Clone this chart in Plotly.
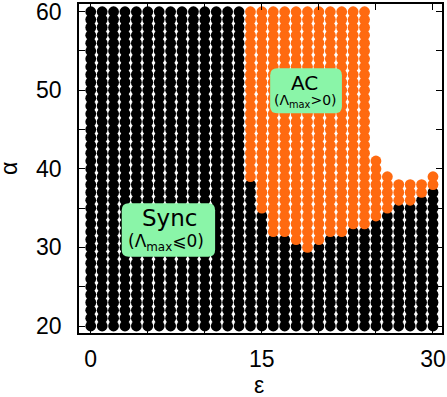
import plotly.graph_objects as go

# ---- data ----
epsilon_cols = list(range(0, 31))                       # column positions (ε)
alpha_min = 20                                          # lowest α row
top_alpha = [60]*25 + [41, 39, 38, 38, 38, 39]          # highest computed α per column
orange_start = [None]*14 + [39, 35, 32, 32, 31, 30, 31, 32, 32, 33, 33,
                            34, 35, 36, 36, 37, 38]     # first AC (orange) α per column
x_tickvals = [0, 5, 10, 15, 20, 25, 30]
x_ticktext = ["0", "", "", "15", "", "", "30"]
y_tickvals = [20, 25, 30, 35, 40, 45, 50, 55, 60]
y_ticktext = ["20", "", "30", "", "40", "", "50", "", "60"]

# build point lists
bx, by, ox, oy = [], [], [], []
for e, top, os_ in zip(epsilon_cols, top_alpha, orange_start):
    for a in range(alpha_min, top + 1):
        if os_ is not None and a >= os_:
            ox.append(e); oy.append(a)
        else:
            bx.append(e); by.append(a)

# ---- layout geometry ----
W, H = 447, 397
L, R, T, B = 79, 441.7, 4, 333
XR = [-1.03, 30.79]
YR = [19.11, 60.98]

def px2x(px):
    return XR[0] + (px - L) / (R - L) * (XR[1] - XR[0])

def px2y(py):
    return YR[1] - (py - T) / (B - T) * (YR[1] - YR[0])

def rounded_box(x0p, x1p, y0p, y1p, r):
    def P(px, py):
        return f"{px2x(px):.4f},{px2y(py):.4f}"
    return (f"M {P(x0p + r, y0p)} L {P(x1p - r, y0p)} "
            f"Q {P(x1p, y0p)} {P(x1p, y0p + r)} L {P(x1p, y1p - r)} "
            f"Q {P(x1p, y1p)} {P(x1p - r, y1p)} L {P(x0p + r, y1p)} "
            f"Q {P(x0p, y1p)} {P(x0p, y1p - r)} L {P(x0p, y0p + r)} "
            f"Q {P(x0p, y0p)} {P(x0p + r, y0p)} Z")

BOX_GREEN = "#8AF5A8"
ORANGE = "#FF6A10"

fig = go.Figure()
fig.add_trace(go.Scatter(x=bx, y=by, mode="markers",
                         marker=dict(size=10.8, color="black", line=dict(width=0)),
                         hoverinfo="skip", showlegend=False))
fig.add_trace(go.Scatter(x=ox, y=oy, mode="markers",
                         marker=dict(size=10.8, color=ORANGE, line=dict(width=0)),
                         hoverinfo="skip", showlegend=False))

shapes = [
    dict(type="path", path=rounded_box(121.7, 215, 203.3, 256.7, 7), xref="x", yref="y",
         fillcolor=BOX_GREEN, line=dict(width=0), layer="above"),
    dict(type="path", path=rounded_box(270, 341.7, 68.3, 113.3, 7), xref="x", yref="y",
         fillcolor=BOX_GREEN, line=dict(width=0), layer="above"),
]

box_font = "DejaVu Sans"
annotations = [
    dict(x=px2x(169), y=px2y(218), text="Sync", showarrow=False,
         font=dict(family=box_font, size=23, color="black"), xref="x", yref="y"),
    dict(x=px2x(166), y=px2y(242), text="(Λ<sub>max</sub>⩽0)", showarrow=False,
         font=dict(family=box_font, size=17, color="black"), xref="x", yref="y"),
    dict(x=px2x(304.5), y=px2y(83), text="AC", showarrow=False,
         font=dict(family=box_font, size=20, color="black"), xref="x", yref="y"),
    dict(x=px2x(305), y=px2y(101), text="(Λ<sub>max</sub>>0)", showarrow=False,
         font=dict(family=box_font, size=14, color="black"), xref="x", yref="y"),
    # axis titles
    dict(x=px2x(259), y=0, yref="paper", xref="x", yshift=-52, text="ε", showarrow=False,
         borderpad=0, font=dict(family="Liberation Sans", size=23, color="black"),
         yanchor="middle"),
    dict(x=0, xref="paper", y=px2y(169), yref="y", xshift=-70, text="α", showarrow=False,
         borderpad=0, textangle=-90, font=dict(family="Liberation Sans", size=23, color="black"),
         xanchor="center"),
]

axis_common = dict(showline=True, linecolor="black", linewidth=1.5, mirror="allticks",
                   ticks="inside", ticklen=6, tickwidth=1.2, tickcolor="black",
                   showgrid=False, zeroline=False, automargin=False,
                   ticklabeloverflow="allow",
                   tickfont=dict(family="Liberation Sans", size=23, color="black"))

fig.update_layout(
    width=W, height=H,
    margin=dict(l=L, r=W - R, t=T, b=H - B, autoexpand=False),
    paper_bgcolor="white", plot_bgcolor="white",
    xaxis=dict(range=XR, tickvals=x_tickvals, ticktext=x_ticktext,
               ticklabelstandoff=5, **axis_common),
    yaxis=dict(range=YR, tickvals=y_tickvals, ticktext=y_ticktext,
               ticklabelstandoff=11, **axis_common),
    shapes=shapes, annotations=annotations,
)

fig.write_html("out.html", config={"displayModeBar": False},
               post_script="document.body.style.margin='0px';")
